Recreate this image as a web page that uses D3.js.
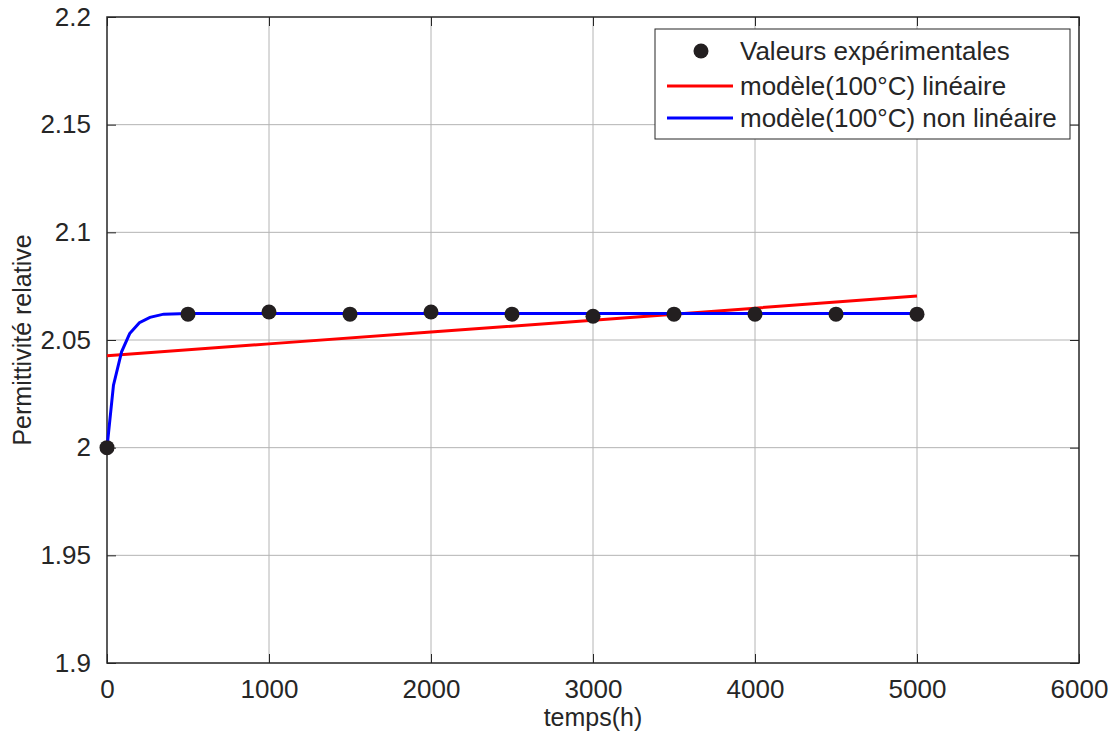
<!DOCTYPE html>
<html>
<head>
<meta charset="utf-8">
<script src="https://cdn.jsdelivr.net/npm/d3@7"></script>
<style>
  body { margin: 0; background: #fff; }
  svg text { font-family: "Liberation Sans", Arial, sans-serif; fill: #262626; }
</style>
</head>
<body>
<svg id="chart"></svg>
<script>
// experimental points
const expTimes = [0, 500, 1000, 1500, 2000, 2500, 3000, 3500, 4000, 4500, 5000];
const expValues = [2.0, 2.062, 2.063, 2.062, 2.063, 2.062, 2.061, 2.062, 2.062, 2.062, 2.062];

// linear model (100°C)
const linTimes = [0, 1000, 2000, 3000, 4000, 5000];
const linValues = [2.0427, 2.0482, 2.0537, 2.0592, 2.0648, 2.0704];

// non-linear model (100°C)
const nlTimes = [0, 40, 90, 140, 200, 265, 350, 500, 5000];
const nlValues = [2.0, 2.029, 2.0445, 2.053, 2.058, 2.0605, 2.062, 2.0623, 2.0623];

const xTicks = [0, 1000, 2000, 3000, 4000, 5000, 6000];
const yTicks = [1.9, 1.95, 2.0, 2.05, 2.1, 2.15, 2.2];
const yTickLabels = ['1.9', '1.95', '2', '2.05', '2.1', '2.15', '2.2'];

const legendLabels = ['Valeurs expérimentales', 'modèle(100°C) linéaire', 'modèle(100°C) non linéaire'];

const width = 1112, height = 732;
const pLeft = 107, pRight = 1079, pTop = 17, pBottom = 663;

const svg = d3.select('#chart')
    .attr('width', width)
    .attr('height', height);

const x = d3.scaleLinear().domain([0, 6000]).range([pLeft, pRight]);
const y = d3.scaleLinear().domain([1.9, 2.2]).range([pBottom, pTop]);

// grid
svg.append('g')
    .selectAll('line')
    .data(xTicks.slice(1, -1))
    .enter().append('line')
    .attr('x1', d => x(d)).attr('x2', d => x(d))
    .attr('y1', pTop).attr('y2', pBottom)
    .attr('stroke', '#b4b4b4').attr('stroke-width', 1);

svg.append('g')
    .selectAll('line')
    .data(yTicks.slice(1, -1))
    .enter().append('line')
    .attr('x1', pLeft).attr('x2', pRight)
    .attr('y1', d => y(d)).attr('y2', d => y(d))
    .attr('stroke', '#b4b4b4').attr('stroke-width', 1);

// axes: ticks inward on all sides
const tl = 9;
const xBottom = svg.append('g').attr('transform', `translate(0,${pBottom})`)
    .call(d3.axisBottom(x).tickValues(xTicks).tickSize(-tl).tickPadding(tl + 8).tickFormat(d3.format('d')));
const xTop = svg.append('g').attr('transform', `translate(0,${pTop})`)
    .call(d3.axisTop(x).tickValues(xTicks).tickSize(-tl).tickFormat(''));
const yLeft = svg.append('g').attr('transform', `translate(${pLeft},0)`)
    .call(d3.axisLeft(y).tickValues(yTicks).tickSize(-tl).tickPadding(tl + 7).tickFormat((d, i) => yTickLabels[i]));
const yRight = svg.append('g').attr('transform', `translate(${pRight},0)`)
    .call(d3.axisRight(y).tickValues(yTicks).tickSize(-tl).tickFormat(''));

[xBottom, xTop, yLeft, yRight].forEach(g => {
    g.select('.domain').remove();
    g.selectAll('.tick line').attr('stroke', '#262626').attr('stroke-width', 1);
    g.selectAll('text').attr('font-size', 26).attr('fill', '#262626')
        .style('font-family', '"Liberation Sans", Arial, sans-serif');
});

// box
svg.append('rect')
    .attr('x', pLeft).attr('y', pTop)
    .attr('width', pRight - pLeft).attr('height', pBottom - pTop)
    .attr('fill', 'none').attr('stroke', '#262626').attr('stroke-width', 1.5);

// axis labels
svg.append('text')
    .attr('x', (pLeft + pRight) / 2).attr('y', 726)
    .attr('text-anchor', 'middle').attr('font-size', 25)
    .text('temps(h)');

svg.append('text')
    .attr('transform', `translate(31,${(pTop + pBottom) / 2}) rotate(-90)`)
    .attr('text-anchor', 'middle').attr('font-size', 25)
    .text('Permittivité relative');

// lines
const lineGen = d3.line().x(d => x(d[0])).y(d => y(d[1]));

svg.append('path')
    .datum(linTimes.map((t, i) => [t, linValues[i]]))
    .attr('d', lineGen)
    .attr('fill', 'none').attr('stroke', '#ff0000').attr('stroke-width', 3);

svg.append('path')
    .datum(nlTimes.map((t, i) => [t, nlValues[i]]))
    .attr('d', lineGen)
    .attr('fill', 'none').attr('stroke', '#0000ff').attr('stroke-width', 3);

// experimental markers
svg.append('g')
    .selectAll('circle')
    .data(expTimes.map((t, i) => [t, expValues[i]]))
    .enter().append('circle')
    .attr('cx', d => x(d[0])).attr('cy', d => y(d[1]))
    .attr('r', 7.5).attr('fill', '#231f20');

// legend
const lg = svg.append('g');
lg.append('rect')
    .attr('x', 655).attr('y', 29).attr('width', 415).attr('height', 110)
    .attr('fill', '#fff').attr('stroke', '#262626').attr('stroke-width', 1);

const rowY = [51, 86, 118];
lg.append('circle').attr('cx', 701).attr('cy', rowY[0]).attr('r', 7.5).attr('fill', '#231f20');
lg.append('line').attr('x1', 667).attr('x2', 733).attr('y1', rowY[1]).attr('y2', rowY[1])
    .attr('stroke', '#ff0000').attr('stroke-width', 3);
lg.append('line').attr('x1', 667).attr('x2', 733).attr('y1', rowY[2]).attr('y2', rowY[2])
    .attr('stroke', '#0000ff').attr('stroke-width', 3);

lg.selectAll('text.leg')
    .data(legendLabels)
    .enter().append('text')
    .attr('class', 'leg')
    .attr('x', 740).attr('y', (d, i) => rowY[i] + 9)
    .attr('font-size', 26)
    .text(d => d);
</script>
</body>
</html>
